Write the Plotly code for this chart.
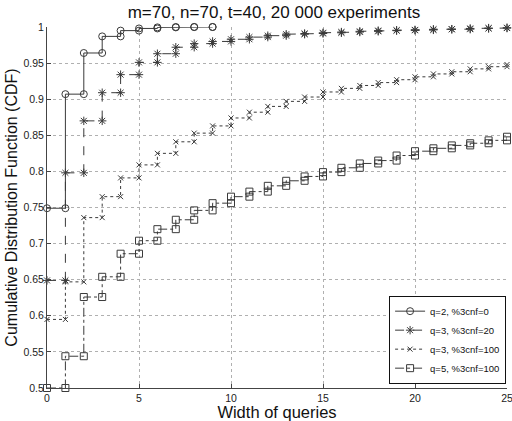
import plotly.graph_objects as go

# CDF values, one value per query width
widths_q2 = list(range(0, 10))
cdf_q2_cnf0 = [0.749, 0.907, 0.964, 0.987, 0.995, 0.998, 0.9995, 1.0, 1.0, 1.0]

widths = list(range(0, 26))
cdf_q3_cnf20 = [0.649, 0.798, 0.870, 0.909, 0.934, 0.951, 0.963, 0.972, 0.977, 0.980,
                0.983, 0.986, 0.988, 0.990, 0.991, 0.992, 0.993, 0.994, 0.995, 0.9955,
                0.996, 0.9968, 0.997, 0.998, 0.9985, 0.999]
cdf_q3_cnf100 = [0.595, 0.647, 0.736, 0.765, 0.791, 0.809, 0.825, 0.841, 0.853, 0.863,
                 0.874, 0.882, 0.890, 0.897, 0.903, 0.910, 0.915, 0.919, 0.923, 0.927,
                 0.931, 0.935, 0.938, 0.942, 0.945, 0.948]
cdf_q5_cnf100 = [0.500, 0.544, 0.626, 0.654, 0.686, 0.704, 0.720, 0.733, 0.746, 0.756,
                 0.765, 0.772, 0.780, 0.787, 0.793, 0.799, 0.805, 0.811, 0.815, 0.822,
                 0.828, 0.832, 0.836, 0.839, 0.843, 0.848]

labels = ["q=2, %3cnf=0", "q=3, %3cnf=20", "q=3, %3cnf=100", "q=5, %3cnf=100"]

x_ticks = [0, 5, 10, 15, 20, 25]

LINE = "#3a3a3a"


def stairs(xs, ys):
    # matlab-style stairs: every corner of the staircase is a vertex (gets a marker)
    sx, sy = [xs[0]], [ys[0]]
    for i in range(1, len(xs)):
        sx += [xs[i], xs[i]]
        sy += [ys[i - 1], ys[i]]
    return sx, sy


series = [
    (widths_q2, cdf_q2_cnf0, "circle-open", 7, "solid"),
    (widths, cdf_q3_cnf20, "asterisk-open", 7, "dash"),
    (widths, cdf_q3_cnf100, "x-thin-open", 5, "dot"),
    (widths, cdf_q5_cnf100, "square-open", 7, "dashdot"),
]

fig = go.Figure()
for (xs, ys, sym, size, dash), name in zip(series, labels):
    sx, sy = stairs(xs, ys)
    fig.add_trace(go.Scatter(
        x=sx, y=sy, name=name, mode="lines+markers", cliponaxis=False,
        line=dict(color=LINE, width=1, dash=dash),
        marker=dict(symbol=sym, size=size, color=LINE, line=dict(color=LINE, width=1)),
    ))

axis_common = dict(
    showline=True, linecolor="#444", linewidth=1, mirror=False,
    ticks="inside", ticklen=4, tickcolor="#444", ticklabeloverflow="allow",
    showgrid=True, gridcolor="#b0b0b0", griddash="dot", gridwidth=1,
    zeroline=False, tickfont=dict(size=10.5, color="#222"), automargin=False,
)

fig.update_layout(
    width=512, height=421,
    margin=dict(l=47, r=5, t=27, b=33),
    paper_bgcolor="white", plot_bgcolor="white",
    font=dict(family="Liberation Sans, Arial, sans-serif", color="#111"),
    title=dict(text="m=70, n=70, t=40, 20 000 experiments", x=0.535, xanchor="center",
               y=0.972, yanchor="middle", font=dict(size=17)),
    xaxis=dict(range=[0, 25], tickvals=x_ticks,
               title=dict(text="Width of queries", font=dict(size=16.5), standoff=0),
               **axis_common),
    yaxis=dict(range=[0.5, 1], dtick=0.05, tick0=0.5,
               title=dict(text="Cumulative Distribution Function (CDF)", font=dict(size=16), standoff=1),
               **axis_common),
    legend=dict(x=0.998, y=0.012, xanchor="right", yanchor="bottom",
                bgcolor="white", bordercolor="#111", borderwidth=1,
                font=dict(size=9.5), tracegroupgap=0, itemwidth=30),
    showlegend=True,
)

# page body has a default 8px margin; drop it so the figure sits at the window corner
fig.write_html("out.html", config={"displayModeBar": False},
               post_script="document.body.style.margin='0';")
